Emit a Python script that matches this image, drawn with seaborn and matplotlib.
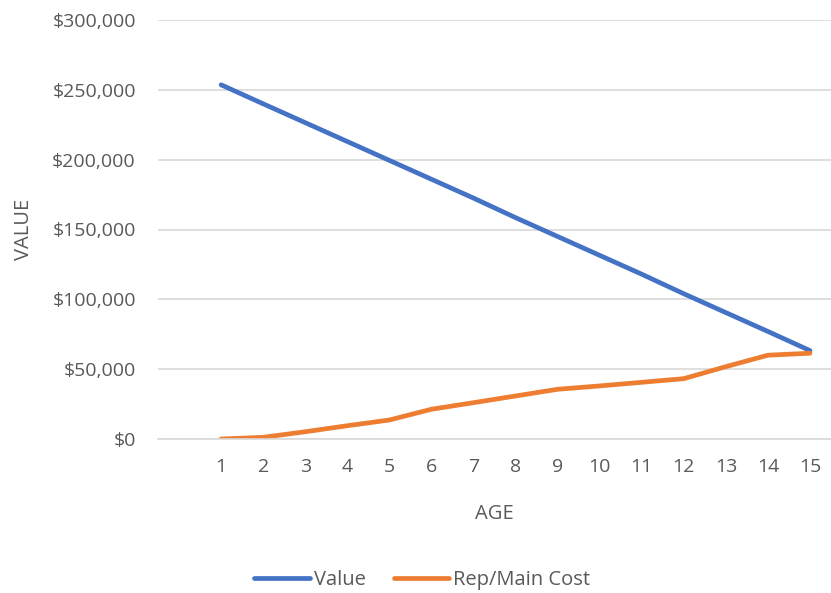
import matplotlib
matplotlib.use("Agg")
import matplotlib.pyplot as plt
import matplotlib.ticker as mticker
from matplotlib.lines import Line2D
import seaborn as sns
import pandas as pd

ages = list(range(1, 16))
value = [253600, 240000, 226500, 213000, 199500, 186000, 172500, 158500,
         145000, 131500, 118000, 104000, 90500, 77000, 63300]
rep_main_cost = [0, 1200, 5200, 9500, 13600, 21300, 26000, 30800,
                 35600, 38000, 40600, 43200, 51800, 60000, 61400]
series_names = ["Value", "Rep/Main Cost"]
colors = ["#4472C4", "#ED7D31"]

df = pd.concat([
    pd.DataFrame({"AGE": ages, "VALUE": value, "Series": series_names[0]}),
    pd.DataFrame({"AGE": ages, "VALUE": rep_main_cost, "Series": series_names[1]}),
])

sns.set_theme(style="white")
plt.rcParams["font.family"] = ["Open Sans", "DejaVu Sans"]
text_color = "#595959"

fig = plt.figure(figsize=(8.31, 5.93), dpi=100)
ax = fig.add_axes([158 / 831, 1 - 439 / 593, 1 - 158 / 831, (439 - 20) / 593])

sns.lineplot(data=df, x="AGE", y="VALUE", hue="Series", palette=colors,
             hue_order=series_names, ax=ax, linewidth=3.4, legend=False,
             solid_capstyle="round", solid_joinstyle="round")

ax.set_xlim(-0.5, 15.5)
ax.set_ylim(0, 300000)
ax.set_xticks(ages)
ax.set_xticklabels([str(a) for a in ages])
ax.yaxis.set_major_locator(mticker.MultipleLocator(50000))
ax.yaxis.set_major_formatter(mticker.FuncFormatter(lambda v, p: f"${v:,.0f}"))
ax.grid(axis="y", color="#D9D9D9", linewidth=1.2)
ax.set_axisbelow(True)
for s in ["top", "right", "left"]:
    ax.spines[s].set_visible(False)
ax.spines["bottom"].set_color("#D9D9D9")
ax.spines["bottom"].set_linewidth(1.2)
ax.tick_params(axis="both", length=0, labelsize=14, colors=text_color)
ax.tick_params(axis="x", pad=14)
ax.tick_params(axis="y", pad=16)
ax.set_xlabel("AGE", fontsize=14.5, color=text_color, labelpad=20)
ax.set_ylabel("VALUE", fontsize=14.5, color=text_color, labelpad=13)

handles = [Line2D([0], [0], color=c, linewidth=3.4, solid_capstyle="round") for c in colors]
fig.legend(handles, series_names, loc="center", bbox_to_anchor=(0.508, 1 - 580 / 593),
           ncol=2, frameon=False, fontsize=14.5, labelcolor=text_color,
           handlelength=2.75, handletextpad=0.2, columnspacing=1.4)

fig.savefig("out.png", dpi=100)
